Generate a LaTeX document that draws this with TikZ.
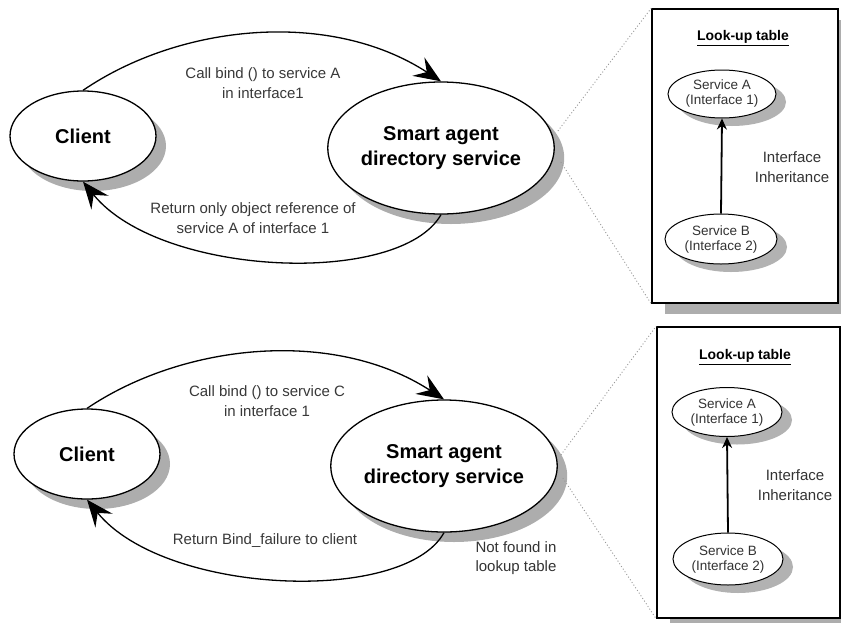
\documentclass[tikz,border=0pt]{standalone}
\usepackage{fontspec}
\setmainfont{Liberation Sans}
\usetikzlibrary{shapes.geometric,shadows,arrows.meta,calc}

\tikzset{
  % pixel-like units, y grows downwards
  x=1pt, y=-1pt,
  actor/.style={ellipse, draw, line width=1.3pt, fill=white, inner sep=0pt,
    font=\bfseries\fontsize{20}{25}\selectfont, align=center,
    drop shadow={shadow xshift=10pt, shadow yshift=-10pt, fill=black!32, opacity=1}},
  svc/.style={ellipse, draw, line width=1pt, fill=white, inner sep=0pt,
    font=\fontsize{13.5}{15}\selectfont, align=center, text=black!80,
    minimum width=110pt, minimum height=49pt,
    drop shadow={shadow xshift=10pt, shadow yshift=-8pt, fill=black!30, opacity=1}},
  tablebox/.style={rectangle, draw, line width=1.6pt, fill=white, inner sep=0pt,
    drop shadow={shadow xshift=13pt, shadow yshift=-11pt, fill=black!32, opacity=1}},
  msg/.style={font=\fontsize{15}{20}\selectfont, align=center, text=black!78},
  side/.style={font=\fontsize{15}{19.5}\selectfont, align=center, text=black!80},
  ttl/.style={font=\bfseries\fontsize{14}{16}\selectfont},
  flow/.style={line width=1.3pt, -{Stealth[length=27pt, width=22pt, inset=10pt]}},
  inherit/.style={line width=1.8pt, -{Stealth[length=11pt, width=10pt]}},
  zoomline/.style={black!40, line width=0.9pt, dash pattern=on 1pt off 2.2pt},
}

\begin{document}
\begin{tikzpicture}
\useasboundingbox (0,0) rectangle (841,622);

% ---------------- upper scenario ----------------
\node[actor, minimum width=146pt, minimum height=90pt] (client1) at (83,136) {Client};
\node[actor, minimum width=216pt, minimum height=132pt] (agent1) at (441,148)
  {Smart agent\\directory service};

\draw[flow] (client1.north) .. controls (180,24) and (330,9) .. (agent1.north);
\draw[flow] (agent1.south) .. controls (400,287) and (160,277) .. (client1.south);

\node[msg] (call1) at (263,83) {Call bind () to service A\\in interface1};
\node[msg] (ret1) at (253,218) {Return only object reference of\\service A of interface 1};

\node[tablebox, minimum width=186pt, minimum height=294pt] (box1) at (745,156) {};
\node[ttl] (title1) at (743,38) {\underline{Look-up table}};
\node[svc, minimum width=108pt, minimum height=48pt] (sa1) at (722,94) {Service A\\(Interface 1)};
\node[svc, minimum width=112pt, minimum height=50pt] (sb1) at (721,239) {Service B\\(Interface 2)};
\draw[inherit] (sb1.north) -- (sa1.south);
\node[side] (inh1) at (792,167) {Interface\\Inheritance};

\draw[zoomline] ($(agent1.east)+(3,-17)$) -- (box1.north west);
\draw[zoomline] ($(agent1.east)+(6,14)$) -- (box1.south west);

% ---------------- lower scenario ----------------
\node[actor, minimum width=146pt, minimum height=90pt] (client2) at (87,454) {Client};
\node[actor, minimum width=216pt, minimum height=132pt] (agent2) at (444,466)
  {Smart agent\\directory service};

\draw[flow] (client2.north) .. controls (184,343) and (334,328) .. (agent2.north);
\draw[flow] (agent2.south) .. controls (404,605) and (164,595) .. (client2.south);

\node[msg] (call2) at (267,401) {Call bind () to service C\\in interface 1};
\node[msg] (ret2) at (265,541) {Return Bind\_failure to client};
\node[side, align=left, anchor=west] (nf) at (472,558) {Not found in\\lookup table};

\node[tablebox, minimum width=183pt, minimum height=291pt] (box2) at (748.5,472.5) {};
\node[ttl] (title2) at (745,357) {\underline{Look-up table}};
\node[svc] (sa2) at (727,412) {Service A\\(Interface 1)};
\node[svc, minimum height=52pt] (sb2) at (728,559) {Service B\\(Interface 2)};
\draw[inherit] (sb2.north) -- (sa2.south);
\node[side] (inh2) at (795,485) {Interface\\Inheritance};

\draw[zoomline] ($(agent2.east)+(3,-11)$) -- (box2.north west);
\draw[zoomline] ($(agent2.east)+(5,12)$) -- (box2.south west);
\end{tikzpicture}
\end{document}
